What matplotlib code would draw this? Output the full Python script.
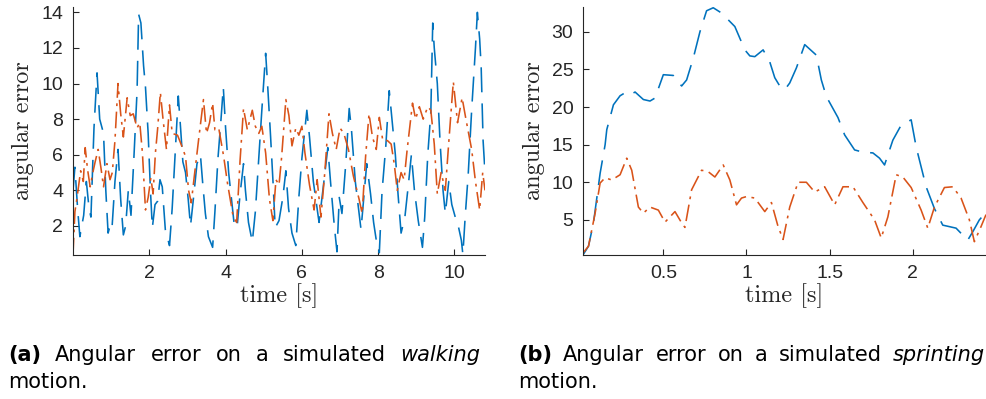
import matplotlib
matplotlib.use("Agg")
import matplotlib.pyplot as plt

# ---------------- data ----------------
walk_t_blue = [0.0, 0.05, 0.12, 0.18, 0.28, 0.35, 0.42, 0.47, 0.55, 0.63, 0.7, 0.8, 0.86, 0.92, 0.97,
               1.02, 1.1, 1.18, 1.25, 1.32, 1.38, 1.45, 1.52, 1.6, 1.68, 1.72, 1.78, 1.85, 1.9, 1.97,
               2.03, 2.08, 2.15, 2.22, 2.28, 2.34, 2.42, 2.53, 2.6, 2.7, 2.76, 2.82, 2.88, 2.95,
               3.02, 3.08, 3.15, 3.25, 3.34, 3.4, 3.47, 3.55, 3.66, 3.72, 3.8, 3.88, 3.94,
               4.0, 4.08, 4.15, 4.22, 4.3, 4.38, 4.47, 4.52, 4.6, 4.7, 4.78, 4.86, 4.95,
               5.05, 5.1, 5.18, 5.25, 5.3, 5.4, 5.5, 5.58, 5.65, 5.74, 5.84, 5.92,
               6.0, 6.13, 6.2, 6.3, 6.45, 6.55, 6.68, 6.75, 6.85, 6.92, 6.98,
               7.05, 7.15, 7.24, 7.3, 7.4, 7.55, 7.62, 7.7, 7.8, 7.88, 7.95,
               8.03, 8.1, 8.2, 8.29, 8.36, 8.45, 8.52, 8.6, 8.7, 8.8, 8.87, 8.95,
               9.05, 9.16, 9.22, 9.3, 9.38, 9.43, 9.47, 9.55, 9.62, 9.7, 9.76, 9.85, 9.93,
               10.02, 10.1, 10.18, 10.22, 10.28, 10.36, 10.45, 10.55, 10.6, 10.66, 10.7, 10.75, 10.8]
walk_v_blue = [4.0, 5.3, 3.0, 1.4, 2.6, 4.5, 3.0, 2.5, 7.5, 10.6, 8.0, 7.2, 4.0, 1.6, 2.0,
               1.8, 4.5, 6.3, 3.5, 1.5, 2.0, 4.0, 2.6, 6.0, 9.6, 13.9, 13.4, 11.0, 9.8, 7.2,
               4.0, 1.9, 3.2, 3.4, 4.6, 4.2, 1.8, 0.9, 3.0, 7.0, 9.3, 7.5, 5.6, 5.0,
               3.5, 2.0, 3.4, 5.5, 6.0, 4.4, 2.7, 1.4, 0.8, 2.8, 5.8, 8.0, 9.8,
               7.5, 5.0, 3.6, 2.2, 1.9, 3.8, 5.5, 4.0, 2.2, 1.1, 2.8, 5.5, 8.5,
               11.7, 10.0, 7.0, 4.2, 1.9, 2.3, 3.6, 5.1, 3.0, 1.6, 0.9, 3.6,
               5.8, 8.5, 7.0, 4.5, 2.2, 4.0, 6.4, 4.5, 2.0, 0.55, 3.6,
               2.7, 5.5, 8.6, 7.4, 4.5, 1.8, 3.5, 5.5, 3.8, 2.2, 1.2,
               0.5, 3.9, 6.5, 9.6, 8.0, 6.0, 3.8, 1.6, 2.5, 4.5, 6.0, 4.0,
               2.3, 0.8, 2.5, 6.0, 8.4, 13.4, 12.0, 10.0, 6.8, 4.0, 2.7, 4.5, 3.2,
               2.5, 2.0, 1.2, 0.4, 2.5, 4.9, 8.5, 12.0, 14.0, 12.5, 10.9, 6.8, 5.0]

walk_t_orange = [0.0, 0.05, 0.1, 0.2, 0.27, 0.32, 0.38, 0.45, 0.52, 0.58, 0.66, 0.73, 0.8, 0.89, 0.97,
                 1.03, 1.1, 1.18, 1.25, 1.32, 1.42, 1.5, 1.58, 1.68, 1.75, 1.82, 1.9, 1.97,
                 2.04, 2.1, 2.16, 2.22, 2.29, 2.36, 2.45, 2.53, 2.6, 2.74, 2.85, 2.95,
                 3.03, 3.1, 3.18, 3.29, 3.42, 3.5, 3.58, 3.66, 3.72, 3.82, 3.95,
                 4.05, 4.2, 4.29, 4.38, 4.47, 4.57, 4.7, 4.78, 4.87, 4.95,
                 5.05, 5.15, 5.24, 5.32, 5.4, 5.47, 5.58, 5.66, 5.74, 5.84, 5.92,
                 6.0, 6.08, 6.2, 6.32, 6.4, 6.5, 6.6, 6.71, 6.8, 6.9,
                 7.0, 7.1, 7.22, 7.35, 7.5, 7.58, 7.67, 7.76, 7.85, 7.95,
                 8.03, 8.12, 8.24, 8.34, 8.42, 8.5, 8.6, 8.68, 8.76, 8.9, 8.98,
                 9.08, 9.18, 9.3, 9.38, 9.47, 9.55, 9.65, 9.76, 9.84, 9.92, 9.97,
                 10.08, 10.2, 10.3, 10.45, 10.55, 10.66, 10.74, 10.8]
walk_v_orange = [0.4, 2.8, 3.5, 5.1, 4.5, 6.4, 5.2, 4.2, 5.0, 5.6, 6.3, 5.3, 4.2, 5.5, 4.6,
                 5.0, 6.8, 10.0, 8.3, 7.0, 9.2, 8.2, 8.3, 7.5, 7.8, 6.1, 2.9, 3.6,
                 4.7, 3.8, 6.1, 7.5, 9.5, 8.0, 6.3, 8.8, 7.2, 7.1, 6.5, 5.9,
                 4.0, 3.3, 4.8, 6.8, 9.1, 7.2, 7.8, 8.9, 7.4, 7.5, 5.9,
                 4.4, 2.5, 2.2, 5.7, 8.6, 7.4, 8.5, 7.6, 7.2, 7.6,
                 6.1, 3.5, 2.3, 4.6, 4.3, 5.9, 9.1, 8.2, 6.5, 7.5, 7.1,
                 7.6, 6.1, 4.3, 2.9, 4.6, 2.5, 5.0, 8.3, 7.2, 6.3,
                 7.5, 7.2, 6.3, 4.8, 3.5, 2.7, 5.9, 8.3, 7.0, 6.3,
                 8.1, 6.8, 6.8, 6.6, 5.5, 4.0, 5.0, 4.6, 6.3, 8.9, 8.0,
                 8.7, 8.0, 8.7, 8.5, 6.6, 3.8, 5.0, 4.0, 6.4, 8.7, 10.1,
                 7.8, 9.2, 8.0, 6.3, 4.5, 2.9, 5.0, 4.0]

sprint_t_blue = [0.017, 0.05, 0.08, 0.12, 0.15, 0.16, 0.2, 0.24, 0.27, 0.3, 0.33, 0.38, 0.42, 0.45,
                 0.5, 0.56, 0.58, 0.61, 0.64, 0.68, 0.72, 0.76, 0.8, 0.85, 0.93, 0.99,
                 1.02, 1.05, 1.1, 1.14, 1.17, 1.2, 1.23, 1.26, 1.3, 1.35, 1.42, 1.45, 1.48,
                 1.55, 1.59, 1.65, 1.7, 1.76, 1.8, 1.83, 1.88, 1.93, 1.99,
                 2.02, 2.08, 2.13, 2.18, 2.26, 2.33, 2.36, 2.4, 2.44]
sprint_v_blue = [0.35, 1.5, 4.6, 11.2, 15.0, 17.0, 20.3, 21.5, 21.9, 21.6, 22.0, 21.0, 20.8, 21.2,
                 24.3, 24.2, 23.6, 22.8, 23.6, 26.5, 30.0, 32.8, 33.2, 32.5, 30.7, 27.6,
                 26.8, 26.7, 27.6, 26.0, 23.9, 22.8, 22.3, 23.2, 25.2, 28.3, 26.9, 23.6, 21.4,
                 18.6, 16.3, 14.3, 14.0, 13.9, 13.2, 12.3, 15.6, 17.6, 18.3,
                 14.7, 9.4, 6.5, 4.3, 3.9, 2.3, 3.4, 5.0, 6.0]

sprint_t_orange = [0.017, 0.05, 0.09, 0.12, 0.15, 0.19, 0.24, 0.28, 0.31, 0.35, 0.38, 0.42, 0.47,
                   0.51, 0.57, 0.61, 0.63, 0.67, 0.73, 0.77, 0.81, 0.86, 0.9, 0.94, 0.97,
                   1.0, 1.05, 1.11, 1.15, 1.19, 1.22, 1.26, 1.31, 1.36, 1.41, 1.47, 1.53,
                   1.58, 1.64, 1.7, 1.77, 1.81, 1.85, 1.9, 1.94, 1.99, 2.05, 2.09, 2.13,
                   2.19, 2.24, 2.29, 2.34, 2.37, 2.41, 2.44]
sprint_v_orange = [0.6, 1.5, 5.9, 9.9, 10.6, 10.3, 11.0, 13.2, 11.6, 6.7, 5.9, 6.7, 6.3,
                   4.7, 6.1, 4.6, 4.0, 9.0, 11.6, 11.4, 10.7, 12.3, 10.3, 7.0, 7.9,
                   8.1, 7.9, 6.1, 7.3, 4.1, 2.4, 6.7, 10.0, 10.0, 8.7, 9.4, 7.0,
                   9.4, 9.4, 7.3, 5.0, 2.6, 5.4, 11.0, 10.7, 9.3, 6.3, 3.9, 6.7,
                   9.3, 9.4, 7.9, 5.0, 2.1, 4.1, 5.7]

walk_xticks = [2, 4, 6, 8, 10]
walk_yticks = [2, 4, 6, 8, 10, 12, 14]
sprint_xticks = [0.5, 1, 1.5, 2]
sprint_xticklabels = ["0.5", "1", "1.5", "2"]
sprint_yticks = [5, 10, 15, 20, 25, 30]

caption_a = [("(a)", "bold", "normal"), ("Angular", "normal", "normal"), ("error", "normal", "normal"),
             ("on", "normal", "normal"), ("a", "normal", "normal"), ("simulated", "normal", "normal"),
             ("walking", "normal", "italic")]
caption_b = [("(b)", "bold", "normal"), ("Angular", "normal", "normal"), ("error", "normal", "normal"),
             ("on", "normal", "normal"), ("a", "normal", "normal"), ("simulated", "normal", "normal"),
             ("sprinting", "normal", "italic")]

# ---------------- styling ----------------
plt.rcParams["lines.scale_dashes"] = False
plt.rcParams["font.family"] = ["Liberation Sans", "DejaVu Sans"]
BLUE = "#0072BD"
ORANGE = "#D95319"
AXC = "#262626"
W, H = 987, 399

fig = plt.figure(figsize=(W / 100, H / 100), dpi=100)


def px_axes(l, t, r, b):
    return fig.add_axes([l / W, 1 - b / H, (r - l) / W, (b - t) / H])


def style(ax):
    for s in ("top", "right"):
        ax.spines[s].set_visible(False)
    for s in ("left", "bottom"):
        ax.spines[s].set_color(AXC)
        ax.spines[s].set_linewidth(0.8)
    ax.tick_params(direction="in", length=4, width=0.8, color=AXC, labelcolor=AXC,
                   labelsize=14, pad=7)


LW = 1.15
ax1 = px_axes(73, 7, 485, 255)
ax1.plot(walk_t_blue, walk_v_blue, color=BLUE, lw=LW, dashes=[18, 8])
ax1.plot(walk_t_orange, walk_v_orange, color=ORANGE, lw=LW, dashes=[12, 4, 2, 4])
ax1.set_xlim(0, 10.8)
ax1.set_ylim(0.37, 14.3)
ax1.set_xticks(walk_xticks)
ax1.set_yticks(walk_yticks)
style(ax1)
ax1.set_xlabel("time [s]", fontfamily="cmr10", fontsize=17.5, color=AXC, labelpad=1)
ax1.set_ylabel("angular error", fontfamily="cmr10", fontsize=17.5, color=AXC, labelpad=5)

ax2 = px_axes(583, 7, 986, 255)
ax2.plot(sprint_t_blue, sprint_v_blue, color=BLUE, lw=LW, dashes=[18, 8])
ax2.plot(sprint_t_orange, sprint_v_orange, color=ORANGE, lw=LW, dashes=[12, 4, 2, 4])
ax2.set_xlim(0.017, 2.44)
ax2.set_ylim(0.33, 33.3)
ax2.set_xticks(sprint_xticks)
ax2.set_xticklabels(sprint_xticklabels)
ax2.set_yticks(sprint_yticks)
style(ax2)
ax2.set_xlabel("time [s]", fontfamily="cmr10", fontsize=17.5, color=AXC, labelpad=1)
ax2.set_ylabel("angular error", fontfamily="cmr10", fontsize=17.5, color=AXC, labelpad=5)

# ---------------- captions (justified first line) ----------------
CAP_FONT = "DejaVu Sans"
CAP_SIZE = 15
renderer = fig.canvas.get_renderer()
for words, x0, x1 in ((caption_a, 8, 480), (caption_b, 518, 985)):
    objs = [fig.text(0, 1 - 361 / H, w, fontfamily=CAP_FONT, fontsize=CAP_SIZE,
                     fontweight=weight, fontstyle=st, color="black", va="baseline", ha="left")
            for (w, weight, st) in words]
    widths = [o.get_window_extent(renderer).width for o in objs]
    gap = (x1 - x0 - sum(widths)) / (len(objs) - 1)
    x = x0
    for o, wd in zip(objs, widths):
        o.set_x(x / W)
        x += wd + gap
    fig.text(x0 / W, 1 - 388 / H, "motion.", fontfamily=CAP_FONT, fontsize=CAP_SIZE,
             color="black", va="baseline", ha="left")

fig.savefig("out.png", dpi=100)
